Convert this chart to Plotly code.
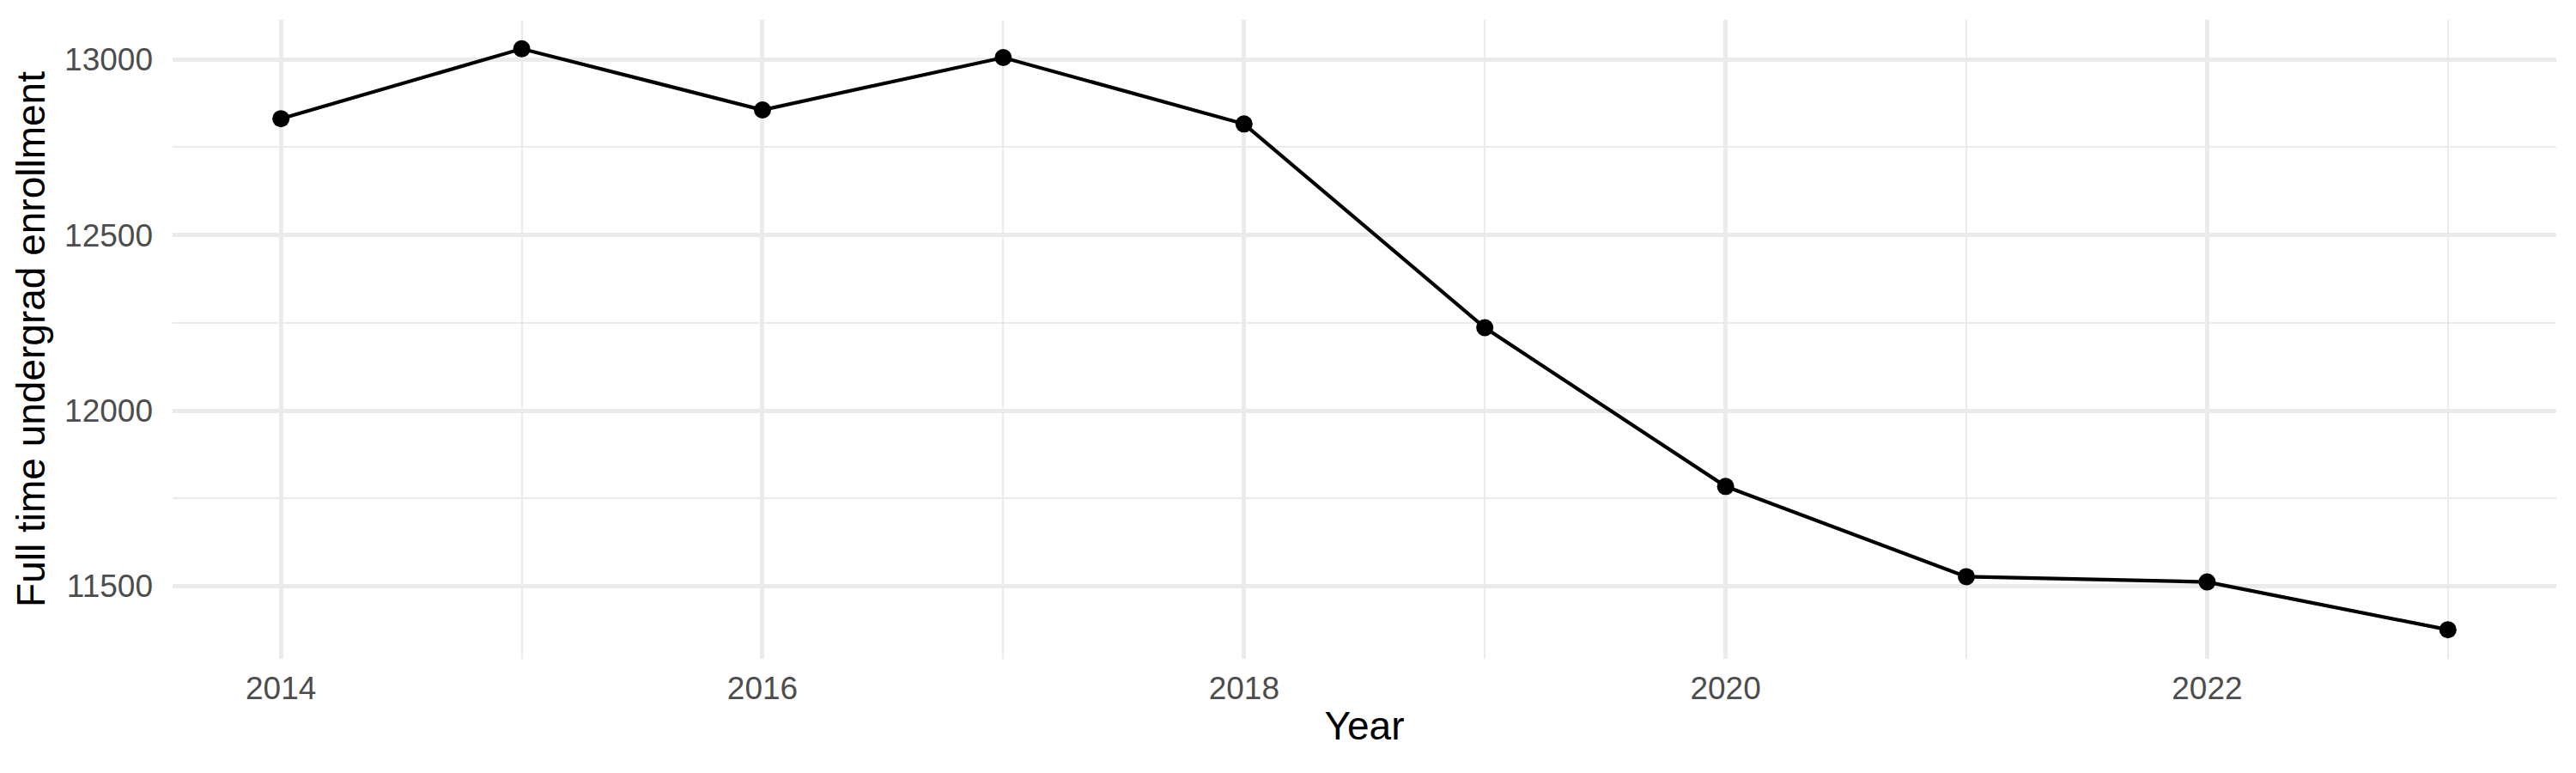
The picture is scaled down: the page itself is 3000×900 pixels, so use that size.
import plotly.graph_objects as go

# Full time undergrad enrollment by year
years = [2014, 2015, 2016, 2017, 2018, 2019, 2020, 2021, 2022, 2023]
enrollment = [12831, 13030, 12856, 13005, 12816, 12236, 11784, 11527, 11512, 11376]

x_ticks = [2014, 2016, 2018, 2020, 2022]
y_ticks = [11500, 12000, 12500, 13000]

# ggplot-style 5% padding around the data
lo, hi = min(enrollment), max(enrollment)
pad = (hi - lo) * 0.05
xpad = (max(years) - min(years)) * 0.05

grid = "#EBEBEB"
font = "Liberation Sans, Arial, sans-serif"

fig = go.Figure(go.Scatter(
    x=years,
    y=enrollment,
    mode="lines+markers",
    line=dict(color="black", width=4.2),
    marker=dict(color="black", size=20),
    showlegend=False,
))

# page body has an 8px margin, so margins are shifted to compensate
fig.update_layout(
    width=3000,
    height=900,
    plot_bgcolor="white",
    paper_bgcolor="white",
    margin=dict(l=193, r=31, t=15, b=141),
    font=dict(family=font, color="#4D4D4D", size=37),
)

fig.update_xaxes(
    range=[min(years) - xpad, max(years) + xpad],
    tickvals=x_ticks,
    ticktext=[str(v) for v in x_ticks],
    showgrid=True, gridcolor=grid, gridwidth=4.5,
    minor=dict(dtick=1, tick0=2015, showgrid=True, gridcolor=grid, gridwidth=2.3),
    zeroline=False, showline=False,
    ticks="", ticklabelstandoff=9,
    tickfont=dict(size=37, color="#4D4D4D"),
    title=dict(text="Year", font=dict(size=46, color="black"), standoff=7),
    automargin=False,
)

fig.update_yaxes(
    range=[lo - pad, hi + pad],
    tickvals=y_ticks,
    ticktext=[str(v) for v in y_ticks],
    showgrid=True, gridcolor=grid, gridwidth=4.5,
    minor=dict(dtick=250, tick0=11250, showgrid=True, gridcolor=grid, gridwidth=2.3),
    zeroline=False, showline=False,
    ticks="", ticklabelstandoff=22,
    tickfont=dict(size=37, color="#4D4D4D"),
    title=dict(text="Full time undergrad enrollment", font=dict(size=46, color="black"), standoff=8),
    automargin=False,
)

fig.write_html("out.html")
